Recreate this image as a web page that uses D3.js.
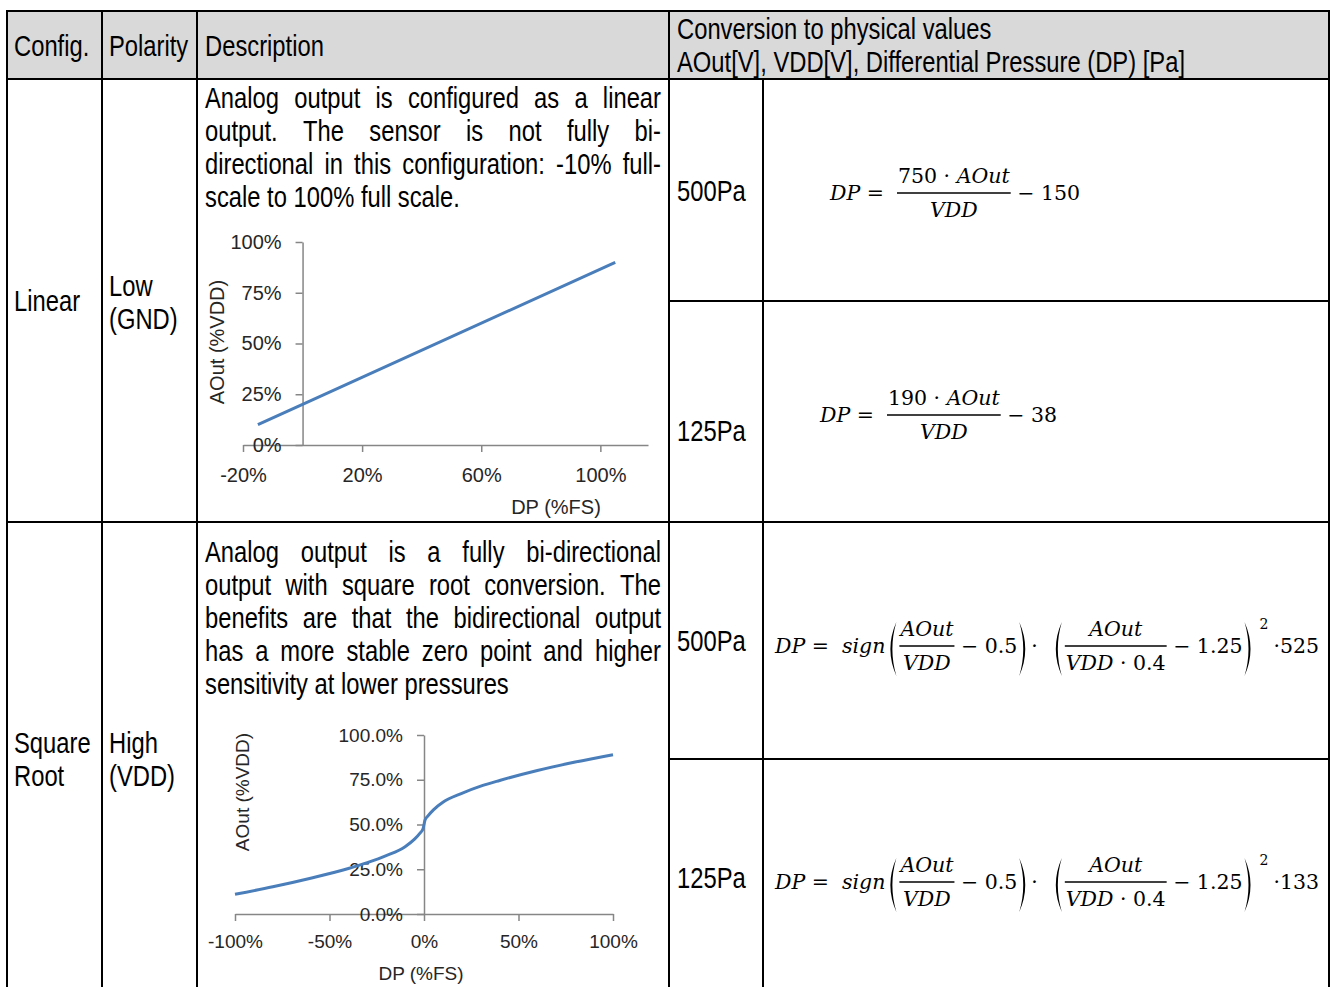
<!DOCTYPE html>
<html>
<head>
<meta charset="utf-8">
<script src="https://cdn.jsdelivr.net/npm/d3@7"></script>
<style>
  body { margin: 0; background: #fff; }
  svg text { white-space: pre; }
</style>
</head>
<body>
<div class="canvas"></div>
<script>
// linear output chart
const linDP = [-15, 0, 105];
const linAOut = [10, 20, 90];
const linXTicks = [-20, 20, 60, 100];
const linYTicks = [0, 25, 50, 75, 100];

// square root output chart
const sqrtDP = [-100, -80, -60, -40, -30, -20, -10, -5, -2, -0.5, 0, 0.5, 2, 5, 10, 20, 30, 40, 60, 80, 100];
const sqrtAOut = [11, 15.2, 20, 25.4, 28.7, 32.6, 37.6, 41.8, 45.3, 47.6, 50, 52.4, 54.7, 58.2, 62.4, 67.4, 71.4, 74.6, 80.2, 84.9, 89];
const sqrtXTicks = [-100, -50, 0, 50, 100];
const sqrtYTicks = [0, 25, 50, 75, 100];

// table texts
const headers = ['Config.', 'Polarity', 'Description'];
const convHeader = ['Conversion to physical values', 'AOut[V], VDD[V], Differential Pressure (DP) [Pa]'];
const ranges = ['500Pa', '125Pa', '500Pa', '125Pa'];
const linDesc = ['Analog output is configured as a linear', 'output. The sensor is not fully bi-',
  'directional in this configuration: -10% full-', 'scale to 100% full scale.'];
const sqrtDesc = ['Analog output is a fully bi-directional', 'output with square root conversion. The',
  'benefits are that the bidirectional output', 'has a more stable zero point and higher',
  'sensitivity at lower pressures'];

// no narrow face installed: squeeze Liberation Sans to Arial Narrow proportions
const tableFont = "'Liberation Sans', Arial, sans-serif";
const NARROW = 0.82;
const mathFont = "'DejaVu Serif', serif";
const chartFont = "'Liberation Sans', Arial, sans-serif";

const svg = d3.select('.canvas')
  .append('svg')
    .attr('width', 1331)
    .attr('height', 987);

// header shading
svg.append('rect')
  .attr('x', 7).attr('y', 11)
  .attr('width', 1322).attr('height', 68)
  .attr('fill', '#d9d9d9');

// table grid
const hLines = [[7, 1329, 11], [7, 1329, 79], [669, 1329, 301], [7, 1329, 522], [669, 1329, 759]];
const vLines = [[7, 11, 987], [102, 11, 987], [197, 11, 987], [669, 11, 987], [763, 79, 987], [1329, 11, 987]];
const grid = svg.append('g').attr('stroke', '#000').attr('stroke-width', 2).attr('stroke-linecap', 'square');
hLines.forEach(d => grid.append('line').attr('x1', d[0]).attr('x2', d[1]).attr('y1', d[2]).attr('y2', d[2]));
vLines.forEach(d => grid.append('line').attr('x1', d[0]).attr('x2', d[0]).attr('y1', d[1]).attr('y2', d[2]));

// plain cell text
const cells = svg.append('g').attr('font-family', tableFont).attr('font-size', 29).attr('fill', '#000');
function narrowText(x, y) {
  return cells.append('text').attr('transform', `translate(${x}, ${y}) scale(${NARROW}, 1)`);
}
function cellText(x, y, lines) {
  lines.forEach((t, i) => narrowText(x, y + i * 33).text(t));
}
cellText(14, 55.5, [headers[0]]);
cellText(109, 55.5, [headers[1]]);
cellText(205, 55.5, [headers[2]]);
cellText(677, 39, convHeader);
cellText(14, 311, ['Linear']);
cellText(109, 296, ['Low', '(GND)']);
cellText(14, 753, ['Square', 'Root']);
cellText(109, 753, ['High', '(VDD)']);
cellText(677, 201, [ranges[0]]);
cellText(677, 441, [ranges[1]]);
cellText(677, 651, [ranges[2]]);
cellText(677, 888, [ranges[3]]);

// justified paragraph, last line left aligned
function paragraph(x0, width, y0, lines) {
  const w = width / NARROW;
  lines.forEach((ln, i) => {
    const t = narrowText(x0, y0 + i * 33);
    if (i === lines.length - 1) { t.text(ln); return; }
    const words = ln.split(' ');
    const spans = words.map(wd => t.append('tspan').text(wd));
    const widths = spans.map(s => s.node().getComputedTextLength());
    const gap = (w - d3.sum(widths)) / (words.length - 1);
    let x = 0;
    spans.forEach((s, j) => { s.attr('x', x); x += widths[j] + gap; });
  });
}
paragraph(205, 456, 108, linDesc);
paragraph(205, 456, 562, sqrtDesc);

// ---- formulas ----
const math = svg.append('g').attr('font-family', mathFont).attr('fill', '#000');
const FS = 20.5;

function pieces(x, y, parts, size) {
  const t = math.append('text').attr('x', x).attr('y', y).attr('font-size', size || FS);
  parts.forEach(p => t.append('tspan').attr('font-style', p[1] ? 'italic' : 'normal').text(p[0]));
  return t;
}

function paren(x, top, bot, open) {
  const mid = (top + bot) / 2;
  const p = open
    ? `M${x + 9},${top} Q${x - 3},${mid} ${x + 9},${bot} Q${x + 1},${mid} ${x + 9},${top}Z`
    : `M${x},${top} Q${x + 12},${mid} ${x},${bot} Q${x + 8},${mid} ${x},${top}Z`;
  math.append('path').attr('d', p).attr('fill', '#000');
}

function formula(x0, bar, items) {
  let x = x0;
  items.forEach(it => {
    if (it.t === 'txt') {
      const t = pieces(x, bar + 7, it.p);
      x += t.node().getComputedTextLength();
    } else if (it.t === 'frac') {
      const n = pieces(x, bar - 10, it.num);
      const d = pieces(x, bar + 24, it.den);
      const wn = n.node().getComputedTextLength();
      const wd = d.node().getComputedTextLength();
      const w = Math.max(wn, wd) + 2;
      n.attr('x', x + (w - wn) / 2);
      d.attr('x', x + (w - wd) / 2);
      math.append('line').attr('x1', x).attr('x2', x + w).attr('y1', bar).attr('y2', bar)
        .attr('stroke', '#000').attr('stroke-width', 1.5);
      x += w;
    } else if (it.t === 'paren') {
      paren(x + 2, bar - 24, bar + 30, it.open);
      x += 14;
    } else if (it.t === 'sup') {
      const t = pieces(x + 3, bar - 17, [[it.s, 0]], 14);
      x += t.node().getComputedTextLength() + 8;
    }
  });
}

formula(830, 193, [
  {t: 'txt', p: [['DP', 1], [' =  ', 0]]},
  {t: 'frac', num: [['750 · ', 0], ['AOut', 1]], den: [['VDD', 1]]},
  {t: 'txt', p: [[' − 150', 0]]}
]);
formula(820, 415, [
  {t: 'txt', p: [['DP', 1], [' =  ', 0]]},
  {t: 'frac', num: [['190 · ', 0], ['AOut', 1]], den: [['VDD', 1]]},
  {t: 'txt', p: [[' − 38', 0]]}
]);
function sqrtFormula(bar, k) {
  formula(775, bar, [
    {t: 'txt', p: [['DP', 1], [' =  ', 0], ['sign', 1]]},
    {t: 'paren', open: true},
    {t: 'frac', num: [['AOut', 1]], den: [['VDD', 1]]},
    {t: 'txt', p: [[' − 0.5', 0]]},
    {t: 'paren', open: false},
    {t: 'txt', p: [['·  ', 0]]},
    {t: 'paren', open: true},
    {t: 'frac', num: [['AOut', 1]], den: [['VDD', 1], [' · 0.4', 0]]},
    {t: 'txt', p: [[' − 1.25', 0]]},
    {t: 'paren', open: false},
    {t: 'sup', s: '2'},
    {t: 'txt', p: [['·' + k, 0]]}
  ]);
}
sqrtFormula(646, '525');
sqrtFormula(882, '133');

// ---- charts ----
function chart(o) {
  const x = d3.scaleLinear().domain(o.xDomain).range(o.xRange);
  const y = d3.scaleLinear().domain([0, 100]).range(o.yRange);
  const g = svg.append('g');

  const xAxis = d3.axisBottom(x).tickValues(o.xTicks).tickSize(7).tickSizeOuter(0)
    .tickPadding(o.xPad).tickFormat(d => d + '%');
  const yAxis = d3.axisLeft(y).tickValues(o.yTicks).tickSize(7).tickSizeOuter(0)
    .tickPadding(o.yPad).tickFormat(o.yFmt);

  const xg = g.append('g').attr('transform', `translate(0, ${y(0)})`).call(xAxis);
  const yg = g.append('g').attr('transform', `translate(${x(0)}, 0)`).call(yAxis);
  [xg, yg].forEach(a => {
    a.attr('font-family', chartFont).attr('font-size', o.fs);
    a.selectAll('.domain, .tick line').attr('stroke', '#868686').attr('stroke-width', 1.5);
    a.selectAll('text').attr('fill', '#262626');
  });

  const line = d3.line().x(d => x(d[0])).y(d => y(d[1]));
  if (o.smooth) line.curve(d3.curveMonotoneX);
  g.append('path')
    .datum(o.dp.map((d, i) => [d, o.aout[i]]))
    .attr('d', line)
    .attr('fill', 'none')
    .attr('stroke', '#4a7ebb')
    .attr('stroke-width', 3);

  g.append('text')
    .attr('transform', `translate(${o.yLab[0]}, ${o.yLab[1]}) rotate(-90)`)
    .attr('text-anchor', 'middle').attr('dominant-baseline', 'central')
    .attr('font-family', chartFont).attr('font-size', o.fs).attr('fill', '#262626')
    .text('AOut (%VDD)');
  g.append('text')
    .attr('x', o.xLab[0]).attr('y', o.xLab[1])
    .attr('text-anchor', 'middle')
    .attr('font-family', chartFont).attr('font-size', o.fs).attr('fill', '#262626')
    .text('DP (%FS)');
}

chart({
  dp: linDP, aout: linAOut, xTicks: linXTicks, yTicks: linYTicks,
  xDomain: [-20, 116], xRange: [243, 648], yRange: [445, 242],
  xPad: 16, yPad: 14, fs: 20, yFmt: d => d + '%',
  yLab: [217, 342], xLab: [556, 514], smooth: false
});
chart({
  dp: sqrtDP, aout: sqrtAOut, xTicks: sqrtXTicks, yTicks: sqrtYTicks,
  xDomain: [-100, 100], xRange: [235, 613], yRange: [914, 735],
  xPad: 14, yPad: 14, fs: 19, yFmt: d => d.toFixed(1) + '%',
  yLab: [242, 792], xLab: [421, 980], smooth: true
});
</script>
</body>
</html>
